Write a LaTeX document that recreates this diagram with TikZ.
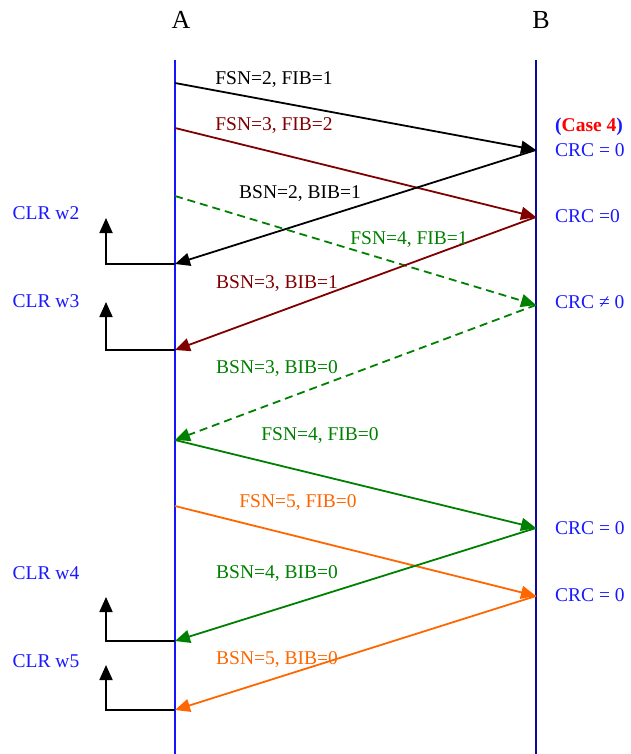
\documentclass[tikz,border=0pt]{standalone}
\usepackage{fontspec}
\setmainfont{Liberation Serif}
\usetikzlibrary{arrows.meta}
\definecolor{lifeblueA}{RGB}{20,20,255}
\definecolor{lifeblueB}{RGB}{10,10,160}
\definecolor{txtblue}{RGB}{25,25,255}
\definecolor{maroon}{RGB}{128,0,0}
\definecolor{dgreen}{RGB}{0,128,0}
\definecolor{orng}{RGB}{255,102,0}
\definecolor{casered}{RGB}{255,0,0}
\begin{document}
\begin{tikzpicture}[x=1pt,y=-1pt,
  lifeline/.style={line width=1.6pt},
  msg/.style={line width=1.8pt,-{Triangle[length=15pt,width=13pt]}},
  lost/.style={msg,dash pattern=on 8pt off 5pt},
  hookarrow/.style={black,line width=1.8pt,-{Triangle[length=15pt,width=13pt]}},
  lbl/.style={font=\fontsize{19.5}{22}\selectfont,inner sep=0pt},
  head/.style={font=\fontsize{26}{28}\selectfont,inner sep=0pt},
  note/.style={lbl,txtblue,anchor=west}]
\useasboundingbox (0,0) rectangle (630,754);

% stations and their time lines
\node[head] (A) at (181,20) {A};
\node[head] (B) at (541,20) {B};
\coordinate (Atop) at (175,60);  \coordinate (Abot) at (175,754);
\coordinate (Btop) at (536,60);  \coordinate (Bbot) at (536,754);
\draw[lifeline,lifeblueA] (Atop) -- (Abot);
\draw[lifeline,lifeblueB] (Btop) -- (Bbot);

% event points on A
\coordinate (a1) at (175,83);
\coordinate (a2) at (175,128);
\coordinate (a3) at (175,264);
\coordinate (a4) at (175,196);
\coordinate (a5) at (175,350);
\coordinate (a6) at (175,440);
\coordinate (a7) at (175,506);
\coordinate (a8) at (175,641);
\coordinate (a9) at (175,710);
% event points on B
\coordinate (b1) at (536,150);
\coordinate (b2) at (536,217);
\coordinate (b3) at (536,305);
\coordinate (b4) at (536,528);
\coordinate (b5) at (536,596);

% frames exchanged
\draw[msg,black] (a1) -- (b1);
\draw[msg,maroon] (a2) -- (b2);
\draw[msg,black] (b1) -- (a3);
\draw[lost,dgreen] (a4) -- (b3);
\draw[msg,maroon] (b2) -- (a5);
\draw[lost,dgreen] (b3) -- (a6);
\draw[msg,dgreen] (a6) -- (b4);
\draw[msg,orng] (a7) -- (b5);
\draw[msg,dgreen] (b4) -- (a8);
\draw[msg,orng] (b5) -- (a9);

% frame labels
\node[lbl,black]  (m1)  at (274,80)  {FSN=2, FIB=1};
\node[lbl,maroon] (m2)  at (274,126) {FSN=3, FIB=2};
\node[lbl,black]  (m3)  at (300,194) {BSN=2, BIB=1};
\node[lbl,dgreen] (m4)  at (409,240) {FSN=4, FIB=1};
\node[lbl,maroon] (m5)  at (277,284) {BSN=3, BIB=1};
\node[lbl,dgreen] (m6)  at (277,369) {BSN=3, BIB=0};
\node[lbl,dgreen] (m7)  at (320,436) {FSN=4, FIB=0};
\node[lbl,orng]   (m8)  at (298,503) {FSN=5, FIB=0};
\node[lbl,dgreen] (m9)  at (277,574) {BSN=4, BIB=0};
\node[lbl,orng]   (m10) at (277,660) {BSN=5, BIB=0};

% receiver checks at B
\node[note] (case) at (555,127) {\textbf{(\textcolor{casered}{Case 4})}};
\node[note] (c1) at (555,150) {CRC = 0};
\node[note] (c2) at (555,216) {CRC =0};
\node[note] (c3) at (555,302) {CRC ≠ 0};
\node[note] (c4) at (555,528) {CRC = 0};
\node[note] (c5) at (555,595) {CRC = 0};

% window clears at A
\coordinate (h1) at (106,218);
\coordinate (h2) at (106,302);
\coordinate (h3) at (106,597);
\coordinate (h4) at (106,665);
\draw[hookarrow] (a3) -| (h1);
\draw[hookarrow] (a5) -| (h2);
\draw[hookarrow] (a8) -| (h3);
\draw[hookarrow] (a9) -| (h4);
\node[note,anchor=center] (w2) at (46,213) {CLR w2};
\node[note,anchor=center] (w3) at (46,301) {CLR w3};
\node[note,anchor=center] (w4) at (46,573) {CLR w4};
\node[note,anchor=center] (w5) at (46,661) {CLR w5};
\end{tikzpicture}
\end{document}
